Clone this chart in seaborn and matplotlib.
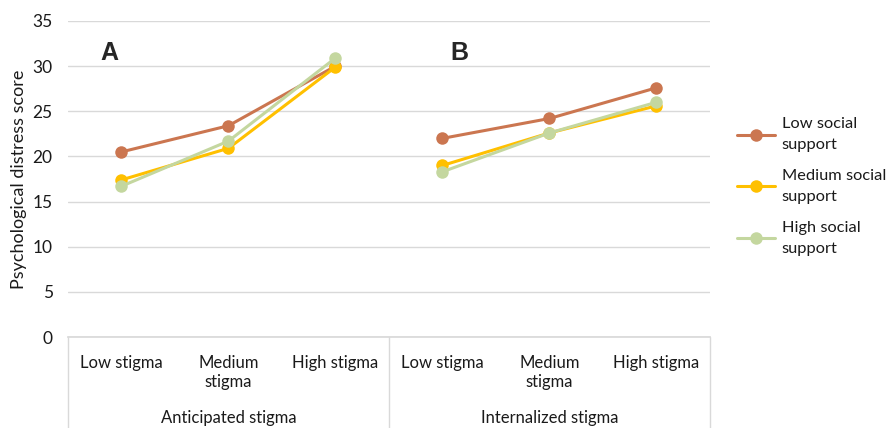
import numpy as np
import pandas as pd
import matplotlib
matplotlib.use("Agg")
import matplotlib.pyplot as plt
import matplotlib.transforms as mtransforms
from matplotlib.lines import Line2D
import seaborn as sns

# ── Data ──────────────────────────────────────────────────────────────────────
stigma_types = ["Anticipated stigma", "Internalized stigma"]
stigma_levels = ["Low stigma", "Medium\nstigma", "High stigma"]
support_groups = ["Low social support", "Medium social support", "High social support"]

anticipated_low = [20.5, 23.4, 30.0]
anticipated_medium = [17.4, 20.9, 29.9]
anticipated_high = [16.7, 21.7, 30.9]

internalized_low = [22.0, 24.2, 27.6]
internalized_medium = [19.0, 22.6, 25.6]
internalized_high = [18.3, 22.6, 26.0]

panel_letters = ["A", "B"]

colors = {
    "Low social support": "#CB7650",
    "Medium social support": "#FFC000",
    "High social support": "#C4D79F",
}
legend_labels = ["Low social\nsupport", "Medium social\nsupport", "High social\nsupport"]

# ── Build long table ──────────────────────────────────────────────────────────
series = {
    ("Anticipated stigma", "Low social support"): anticipated_low,
    ("Anticipated stigma", "Medium social support"): anticipated_medium,
    ("Anticipated stigma", "High social support"): anticipated_high,
    ("Internalized stigma", "Low social support"): internalized_low,
    ("Internalized stigma", "Medium social support"): internalized_medium,
    ("Internalized stigma", "High social support"): internalized_high,
}
rows = []
for (stype, support), vals in series.items():
    g = stigma_types.index(stype)
    for i, v in enumerate(vals):
        rows.append({"Type": stype, "Support": support,
                     "pos": g * len(stigma_levels) + i, "Score": v})
df = pd.DataFrame(rows)

# ── Plot ──────────────────────────────────────────────────────────────────────
sns.set_theme(style="white")
plt.rcParams["font.family"] = ["Lato", "DejaVu Sans"]
TXT = "#1A1A1A"

fig = plt.figure(figsize=(8.91, 4.28), dpi=100)
ax = fig.add_axes([0.0763, 0.2126, 0.7205, 0.7384])

for stype in stigma_types:
    sub = df[df["Type"] == stype]
    sns.lineplot(data=sub, x="pos", y="Score", hue="Support",
                 hue_order=support_groups, palette=colors,
                 marker="o", markersize=9, markeredgewidth=0,
                 linewidth=2.2, legend=False, ax=ax, zorder=3)

ax.set_xlim(-0.5, 5.5)
ax.set_ylim(0, 35)
ax.set_yticks(range(0, 36, 5))
ax.grid(axis="y", color="#D9D9D9", linewidth=1)
ax.set_axisbelow(True)
sns.despine(ax=ax, left=True, top=True, right=True)
ax.spines["bottom"].set_color("#D9D9D9")
ax.tick_params(axis="y", length=0, pad=11, labelsize=12.5, labelcolor=TXT)
ax.set_xticks(range(6))
ax.set_xticklabels(stigma_levels * 2, fontsize=12, color=TXT,
                   linespacing=1.25)
ax.tick_params(axis="x", length=0, pad=13)
ax.set_xlabel("")
ax.set_ylabel("Psychological distress score", fontsize=13, color=TXT,
              labelpad=4)

# group separators and group labels
trans = mtransforms.blended_transform_factory(ax.transData, ax.transAxes)
for xv in [-0.5, 2.5, 5.5]:
    ax.plot([xv, xv], [0, -0.33], transform=trans, color="#D9D9D9",
            linewidth=1, clip_on=False)
for g, stype in enumerate(stigma_types):
    ax.text(g * 3 + 1, -0.255, stype, transform=trans, ha="center", va="center",
            fontsize=12, color=TXT)

# panel letters
for xpos, letter in zip([-0.11, 3.16], panel_letters):
    ax.text(xpos, 31.5, letter, ha="center", va="center",
            fontsize=18, fontweight="bold", family="Liberation Sans")

# legend
handles = [Line2D([0], [0], color=colors[s], marker="o", markersize=9,
                  markeredgewidth=0, linewidth=2.2) for s in support_groups]
leg = fig.legend(handles, legend_labels, loc="upper left",
                 bbox_to_anchor=(0.811, 0.76), frameon=False,
                 handlelength=2.3, labelspacing=1.05, handletextpad=0.4,
                 labelcolor=TXT, prop={"size": 11.8})
for t in leg.get_texts():
    t.set_linespacing(1.6)

fig.savefig("out.png", dpi=100)
